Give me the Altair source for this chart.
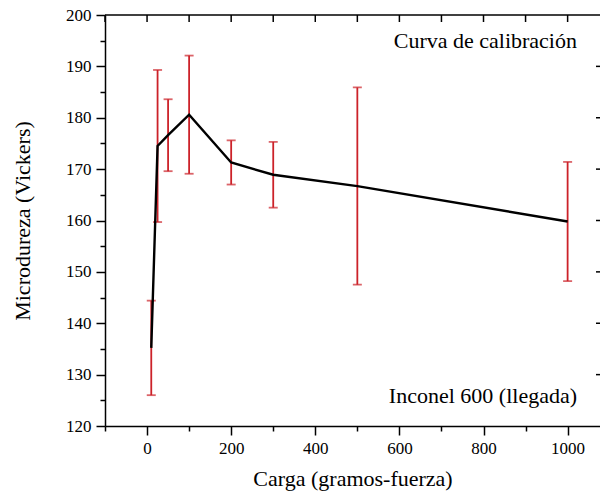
import altair as alt
import pandas as pd

carga = [10, 25, 50, 100, 200, 300, 500, 1000]
dureza = [135.2, 174.5, 176.6, 180.6, 171.3, 168.9, 166.7, 159.8]
error = [9.2, 14.8, 7.0, 11.5, 4.3, 6.4, 19.2, 11.6]

df = pd.DataFrame({"carga": carga, "dureza": dureza, "err": error})
df["lo"] = df["dureza"] - df["err"]
df["hi"] = df["dureza"] + df["err"]

FONT = "Liberation Serif"
RED = "#cc2229"
xdom = [-100, 1077]
ydom = [120, 200]

xscale = alt.Scale(domain=xdom, nice=False, zero=False)
yscale = alt.Scale(domain=ydom, nice=False, zero=False)

xvals = list(range(-100, 1001, 100))
yvals = list(range(120, 201, 5))
yvals_right = list(range(130, 200, 10))

x_bottom = alt.Axis(
    orient="bottom", values=xvals, title="Carga (gramos-fuerza)",
    labelExpr="datum.value % 200 === 0 ? datum.label : ''",
    tickSize={"condition": {"test": "datum.value % 200 === 0", "value": 9}, "value": 5},
    grid=False, labelFont=FONT, titleFont=FONT, labelFontSize=17, titleFontSize=22,
    titleFontWeight="normal", labelColor="black", titleColor="black",
    domainColor="black", tickColor="black", domainWidth=1.5, tickWidth=1.5,
    labelPadding=5, titlePadding=12, format="d",
)
y_left = alt.Axis(
    orient="left", values=yvals, title="Microdureza (Vickers)",
    labelExpr="datum.value % 10 === 0 ? datum.label : ''",
    tickSize={"condition": {"test": "datum.value % 10 === 0", "value": 9}, "value": 5},
    grid=False, labelFont=FONT, titleFont=FONT, labelFontSize=17, titleFontSize=22,
    titleFontWeight="normal", labelColor="black", titleColor="black",
    domainColor="black", tickColor="black", domainWidth=1.5, tickWidth=1.5,
    labelPadding=5, titlePadding=31,
)

base = alt.Chart(df)

rules = base.mark_rule(color=RED, strokeWidth=1.8).encode(
    x=alt.X("carga:Q", scale=xscale, axis=x_bottom),
    y=alt.Y("lo:Q", scale=yscale, axis=y_left),
    y2="hi:Q",
)
cap_lo = base.mark_tick(color=RED, orient="horizontal", size=9, thickness=1.8).encode(
    x=alt.X("carga:Q", scale=xscale, axis=None),
    y=alt.Y("lo:Q", scale=yscale, axis=None),
)
cap_hi = base.mark_tick(color=RED, orient="horizontal", size=9, thickness=1.8).encode(
    x=alt.X("carga:Q", scale=xscale, axis=None),
    y=alt.Y("hi:Q", scale=yscale, axis=None),
)
line = base.mark_line(color="black", strokeWidth=2.4).encode(
    x=alt.X("carga:Q", scale=xscale, axis=None),
    y=alt.Y("dureza:Q", scale=yscale, axis=None),
)

# top frame line and inward ticks on the top and right edges
frame_top = alt.Chart(pd.DataFrame({"k": [0]})).mark_rule(
    color="black", strokeWidth=1.5
).encode(x=alt.value(0), x2=alt.value(495), y=alt.value(0))

top_ticks = alt.Chart(pd.DataFrame({"v": xvals})).mark_rule(
    color="black", strokeWidth=1.5
).encode(
    x=alt.X("v:Q", scale=xscale, axis=None),
    y=alt.value(0), y2=alt.value(7),
)
right_ticks = alt.Chart(pd.DataFrame({"v": yvals_right})).mark_rule(
    color="black", strokeWidth=1.5
).encode(
    y=alt.Y("v:Q", scale=yscale, axis=None),
    x=alt.value(491), x2=alt.value(497),
)

labels = pd.DataFrame({"t": ["Curva de calibración", "Inconel 600 (llegada)"],
                       "py": [26, 381]})
txt = alt.Chart(labels).mark_text(
    font=FONT, fontSize=22, align="right", baseline="middle", color="black"
).encode(
    x=alt.value(472),
    y=alt.Y("py:Q", scale=None, axis=None),
    text="t:N",
)

chart = alt.layer(
    rules, cap_lo, cap_hi, line, frame_top, top_ticks, right_ticks, txt
).resolve_axis(
    x="independent", y="independent"
).properties(
    width=495, height=411,
    autosize=alt.AutoSizeParams(type="none"),
    padding={"left": 105, "top": 15, "right": 0, "bottom": 73},
).configure_view(stroke=None)

chart.save("out.html", embed_options={"renderer": "svg", "actions": False})
